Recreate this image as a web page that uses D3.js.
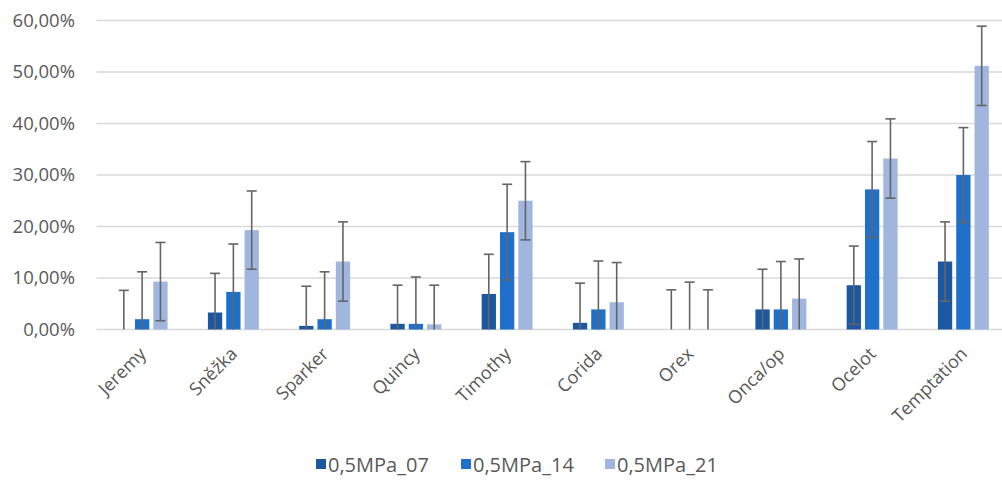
<!DOCTYPE html>
<html><head><meta charset="utf-8">
<script src="https://cdn.jsdelivr.net/npm/d3@7"></script>
<style>
html,body{margin:0;padding:0;background:#fff;}
svg{display:block;}
text{font-family:"Open Sans","Noto Sans",sans-serif;fill:#595959;}
</style></head>
<body>
<svg id="c" width="1002" height="482"></svg>
<script>
const categories = ["Jeremy","Sněžka","Sparker","Quincy","Timothy","Corida","Orex","Onca/op","Ocelot","Temptation"];
const seriesNames = ["0,5MPa_07","0,5MPa_14","0,5MPa_21"];
const s07 = [0, 3.3, 0.7, 1.1, 6.9, 1.3, 0, 3.9, 8.6, 13.2];
const s14 = [2.0, 7.3, 2.0, 1.1, 18.9, 3.9, 0, 3.9, 27.2, 30.0];
const s21 = [9.3, 19.3, 13.2, 1.0, 25.0, 5.3, 0, 6.0, 33.2, 51.2];
const e07 = [7.6, 7.6, 7.7, 7.5, 7.7, 7.7, 7.7, 7.8, 7.6, 7.7];
const e14 = [9.2, 9.3, 9.2, 9.1, 9.3, 9.4, 9.2, 9.3, 9.3, 9.2];
const e21 = [7.6, 7.6, 7.7, 7.6, 7.6, 7.7, 7.7, 7.7, 7.7, 7.7];
const yTicks = [0, 10, 20, 30, 40, 50, 60];
const colors = ["#1c58a2", "#1f70ca", "#a0b6df"];

const values = [s07, s14, s21];
const errors = [e07, e14, e21];

const svg = d3.select("#c");
const x0 = d3.scaleBand().domain(categories).range([96.5, 1009]).paddingInner(0).paddingOuter(0);
const x1 = d3.scaleBand().domain(seriesNames).range([0, x0.bandwidth()]).paddingInner(0.22).paddingOuter(1.1);
const y = d3.scaleLinear().domain([0, 60]).range([329.5, 20.5]);

// gridlines
svg.append("g").selectAll("line").data(yTicks).join("line")
  .attr("x1", 96.5).attr("x2", 1002)
  .attr("y1", d => y(d)).attr("y2", d => y(d))
  .attr("stroke", "#d9d9d9").attr("stroke-width", 1.5);

// y labels
const fmt = d => d.toFixed(2).replace(".", ",") + "%";
svg.append("g").selectAll("text").data(yTicks).join("text")
  .attr("x", 75).attr("y", d => y(d)).attr("dy", "0.35em")
  .attr("text-anchor", "end").attr("font-size", 18.5)
  .text(fmt);

// bars
const rows = [];
categories.forEach((c, i) => seriesNames.forEach((s, j) => rows.push({c, s, j, v: values[j][i], e: errors[j][i]})));
svg.append("g").selectAll("rect").data(rows).join("rect")
  .attr("x", d => x0(d.c) + x1(d.s))
  .attr("width", x1.bandwidth())
  .attr("y", d => y(d.v))
  .attr("height", d => y(0) - y(d.v))
  .attr("fill", d => colors[d.j]);

// error bars
const eg = svg.append("g").attr("stroke", "#656565").attr("stroke-width", 1.6);
rows.forEach(d => {
  const cx = x0(d.c) + x1(d.s) + x1.bandwidth() / 2;
  const hi = d.v + d.e, lo = Math.max(0, d.v - d.e);
  eg.append("line").attr("x1", cx).attr("x2", cx).attr("y1", y(hi)).attr("y2", y(lo));
  eg.append("line").attr("x1", cx - 5).attr("x2", cx + 5).attr("y1", y(hi)).attr("y2", y(hi));
  if (d.v - d.e > 0) eg.append("line").attr("x1", cx - 5).attr("x2", cx + 5).attr("y1", y(lo)).attr("y2", y(lo));
});

// x labels
svg.append("g").selectAll("text").data(categories).join("text")
  .attr("transform", d => `translate(${x0(d) + x0.bandwidth() / 2 + 5},${355}) rotate(-45)`)
  .attr("text-anchor", "end").attr("font-size", 18)
  .text(d => d);

// legend
const legX = [316, 461, 605];
const lg = svg.append("g");
seriesNames.forEach((s, j) => {
  lg.append("rect").attr("x", legX[j]).attr("y", 459).attr("width", 10).attr("height", 10).attr("fill", colors[j]);
  lg.append("text").attr("x", legX[j] + 12).attr("y", 465).attr("dy", "0.35em").attr("font-size", 20).text(s);
});
</script>
</body></html>
